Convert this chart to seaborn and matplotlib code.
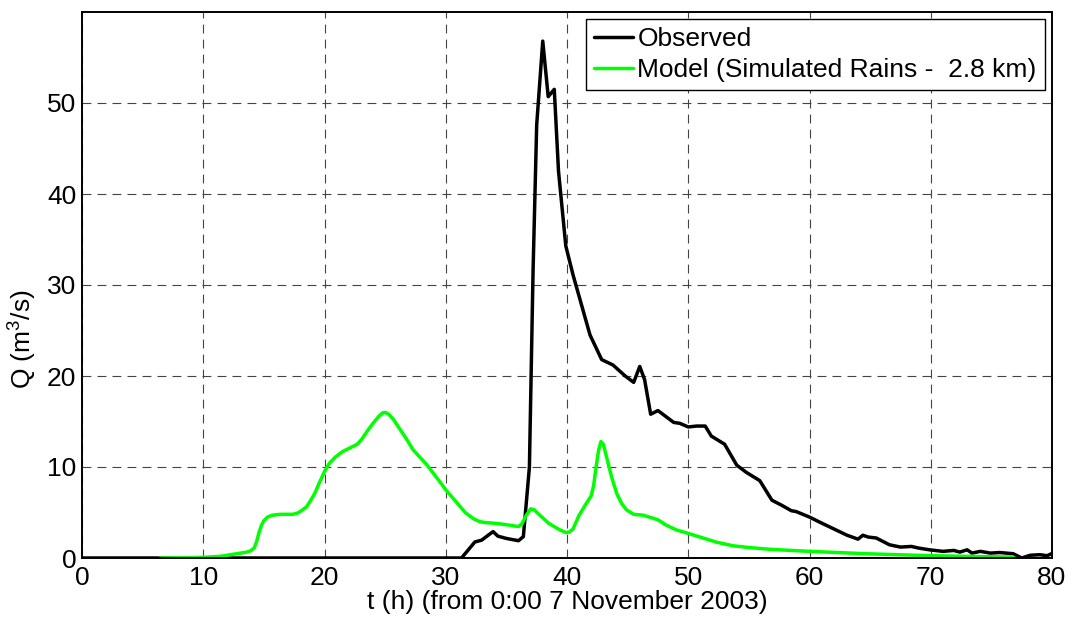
import matplotlib
matplotlib.use("Agg")
import matplotlib.pyplot as plt
import seaborn as sns
import pandas as pd
import numpy as np

# Observed discharge
obs_t = [0, 31.3, 32.4, 32.96, 33.9, 34.3, 35.0, 36.0, 36.4, 36.9, 37.2, 37.5, 38.0, 38.45,
         38.95, 39.3, 39.9, 40.5, 41.9, 42.86, 43.8, 44.8, 45.5, 46.0, 46.4, 46.9, 47.5,
         48.8, 49.3, 50.0, 50.7, 51.4, 51.9, 53.0, 54.0, 54.8, 55.9, 56.9, 57.7, 58.5, 58.9,
         60.0, 60.9, 62.0, 63.1, 64.0, 64.4, 64.85, 65.5, 66.6, 67.5, 68.4, 69.0, 69.9, 71.0,
         71.9, 72.4, 73.0, 73.4, 74.1, 74.9, 75.7, 76.8, 77.5, 78.2, 79.0, 79.6, 80.0]
obs_q = [0, 0, 1.76, 1.96, 2.9, 2.4, 2.15, 1.9, 2.35, 10.0, 31.5, 47.6, 56.8, 50.7,
         51.5, 42.5, 34.3, 31.1, 24.5, 21.8, 21.2, 20.0, 19.3, 21.05, 19.6, 15.8, 16.2,
         14.9, 14.8, 14.4, 14.5, 14.5, 13.4, 12.5, 10.2, 9.4, 8.5, 6.35, 5.8, 5.2, 5.1,
         4.5, 3.9, 3.2, 2.5, 2.07, 2.5, 2.3, 2.2, 1.45, 1.2, 1.27, 1.09, 0.9, 0.73,
         0.83, 0.65, 0.9, 0.54, 0.73, 0.54, 0.6, 0.47, 0.0, 0.3, 0.36, 0.25, 0.5]

# Model (simulated rains - 2.8 km)
mod_t = [6.43, 10.0, 11.4, 12.8, 13.5, 13.9, 14.2, 14.4, 14.6, 14.8, 15.0, 15.3, 15.7,
         16.35, 17.4, 17.8, 18.1, 18.5, 18.8, 19.2, 19.5, 20.0, 20.4, 20.9, 21.5, 22.1,
         22.7, 23.1, 23.5, 24.0, 24.5, 24.8, 25.0, 25.3, 25.7, 26.2, 26.8, 27.3, 28.4,
         29.5, 30.0, 30.9, 31.6, 32.3, 32.8, 33.2, 34.2, 35.3, 36.0, 36.3, 36.6, 37.0,
         37.3, 37.6, 38.5, 39.4, 39.9, 40.2, 40.5, 41.0, 41.5, 42.0, 42.2, 42.4, 42.6,
         42.8, 43.0, 43.3, 43.7, 44.1, 44.5, 44.9, 45.5, 46.3, 47.5, 48.2, 49.0, 50.0,
         50.97, 52.3, 53.7, 55.0, 56.5, 58.2, 60.0, 62.3, 64.7, 67.5, 70.2, 73.5, 76.8]
mod_q = [0.0, 0.07, 0.18, 0.48, 0.62, 0.78, 1.1, 1.8, 2.8, 3.6, 4.1, 4.5, 4.7,
         4.8, 4.8, 4.95, 5.2, 5.6, 6.2, 7.1, 8.05, 9.5, 10.4, 11.1, 11.7, 12.1,
         12.5, 13.1, 13.9, 14.8, 15.6, 15.95, 16.0, 15.8, 15.2, 14.2, 13.0, 11.9, 10.3,
         8.4, 7.5, 6.1, 5.0, 4.3, 4.0, 3.9, 3.8, 3.6, 3.45, 3.8, 4.6, 5.4,
         5.3, 4.9, 3.8, 3.1, 2.8, 2.85, 3.2, 4.7, 5.8, 6.85, 8.0, 10.0, 11.8,
         12.8, 12.5, 10.9, 8.8, 7.1, 6.0, 5.3, 4.8, 4.7, 4.2, 3.6, 3.1, 2.7,
         2.3, 1.75, 1.34, 1.15, 0.98, 0.85, 0.73, 0.6, 0.47, 0.35, 0.25, 0.17, 0.1]

x_ticks = [0, 10, 20, 30, 40, 50, 60, 70, 80]
y_ticks = [0, 10, 20, 30, 40, 50]

sns.set_style("white")
plt.rcParams['font.family'] = ['Liberation Sans', 'DejaVu Sans']
plt.rcParams['mathtext.fontset'] = 'custom'
plt.rcParams['mathtext.rm'] = 'Liberation Sans'
plt.rcParams['text.color'] = 'black'
plt.rcParams['axes.labelcolor'] = 'black'
plt.rcParams['xtick.color'] = 'black'
plt.rcParams['ytick.color'] = 'black'

FS = 19

fig = plt.figure(figsize=(10.69, 6.17), dpi=100)
ax = fig.add_axes([82/1069, 59/617, (1052-82)/1069, (558-12)/617])

df_obs = pd.DataFrame({"t": obs_t, "Q": obs_q})
df_mod = pd.DataFrame({"t": mod_t, "Q": mod_q})

sns.lineplot(data=df_obs, x="t", y="Q", ax=ax, color="black", linewidth=2.5,
             label="Observed", estimator=None, sort=False)
sns.lineplot(data=df_mod, x="t", y="Q", ax=ax, color="#00ff00", linewidth=2.5,
             label="Model (Simulated Rains -  2.8 km)", estimator=None, sort=False)

ax.set_xlim(0, 80)
ax.set_ylim(0, 60)
ax.set_xticks(x_ticks)
ax.set_yticks(y_ticks)
ax.tick_params(axis='both', labelsize=FS, direction='in', length=4, width=1, color='black')
ax.tick_params(axis='x', pad=6)
ax.tick_params(axis='y', pad=4)
ax.grid(True, linestyle=(0, (8, 5.5)), color='#444444', linewidth=0.8)
for s in ax.spines.values():
    s.set_visible(True)
    s.set_color('black')
    s.set_linewidth(1.4)

ax.set_xlabel("t (h) (from 0:00 7 November 2003)", fontsize=FS)
ax.set_ylabel("Q (m$^3$/s)", fontsize=FS)
ax.xaxis.set_label_coords(0.5, -0.058)
ax.yaxis.set_label_coords(-0.045, 0.40)

leg = ax.legend(loc='upper right', fontsize=FS, frameon=True, fancybox=False,
                edgecolor='black', framealpha=1, handlelength=1.5, handletextpad=0.15,
                borderpad=0.3, labelspacing=0.25, borderaxespad=0.28)
leg.get_frame().set_linewidth(1.0)

fig.savefig("out.png", dpi=100)
